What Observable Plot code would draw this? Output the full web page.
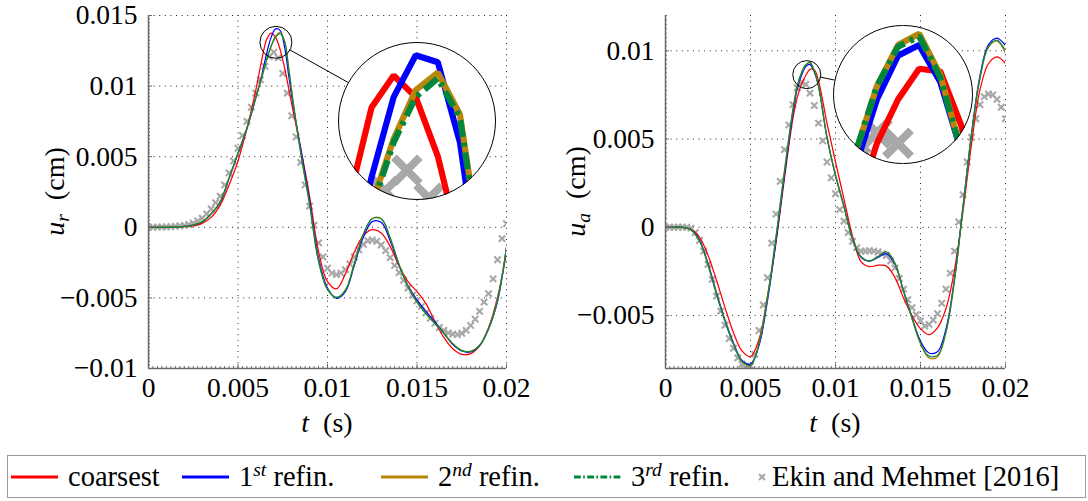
<!DOCTYPE html>
<html>
<head>
<meta charset="utf-8">
<script src="https://cdn.jsdelivr.net/npm/d3@7"></script>
<script src="https://cdn.jsdelivr.net/npm/@observablehq/plot@0.6"></script>
<style>
  html, body { margin: 0; padding: 0; background: #fff; }
  #figure { position: relative; width: 1088px; height: 501px; font-family: "Liberation Serif", Tinos, "DejaVu Serif", serif; color: #000; }
  .panel { position: absolute; top: 0; }
  .lens, .lens-ring { position: absolute; border-radius: 50%; }
  .lens { overflow: hidden; background: #fff; }
  .lens svg { display: block; }
  .lens-ring { border: 1.8px solid #000; box-sizing: border-box; }
  #legend { position: absolute; left: 7px; top: 455px; width: 1079px; height: 43px; border: 1.5px solid #9a9a9a; box-sizing: border-box; font-size: 28.5px; }
  .item { position: absolute; top: 0; height: 100%; display: flex; align-items: center; white-space: nowrap; }
  .item svg { margin-right: 10px; }
  .sup { font-size: 19.5px; font-style: italic; position: relative; top: -10px; }
</style>
</head>
<body>
<div id="figure">
  <div id="left" class="panel" style="left:0"></div>
  <div id="right" class="panel" style="left:544px"></div>
  <div id="legend"></div>
</div>
<script>
// All tabulated values are in units of 1e-3 (t in ms, u in 1e-3 cm).
const UNIT = 1e-3;

// ---- radial displacement u_r ----
const tSimR_r = [0, 0.5, 1, 1.5, 2, 2.5, 3, 3.5, 4, 4.5, 5, 5.5, 6, 6.35, 6.6, 6.85, 7.1, 7.35, 7.6, 7.85, 8.1, 8.5,
  9, 9.5, 10, 10.5, 11, 11.5, 12, 12.5, 13, 13.5, 14, 14.5, 15, 15.5, 16, 16.5, 17, 17.5, 18, 18.5, 19, 19.5, 20];
const coarsest_r = [0, 0, 0, 0.01, 0.04, 0.1, 0.28, 0.7, 1.55, 3.0, 4.7, 7.0, 9.75, 12.0, 13.3, 13.76, 13.45, 12.6, 11.3, 9.7, 8.1, 5.6,
  2.2, -1.7, -3.85, -4.35, -3.3, -1.75, -0.6, -0.17, -0.4, -1.35, -2.75, -3.85, -4.55, -5.4, -6.65, -7.8, -8.6, -9.0, -8.95, -8.4, -7.1, -4.95, -1.8];
const refin1_r = [0, 0, 0, 0.02, 0.06, 0.15, 0.38, 0.95, 1.75, 3.45, 5.2, 7.0, 9.2, 10.9, 12.3, 13.45, 14.05, 13.95, 12.8, 10.6, 8.5, 5.6,
  1.9, -2.2, -4.3, -5.03, -4.55, -2.7, -0.71, 0.4, 0.35, -0.95, -2.7, -4.15, -5.15, -5.95, -6.7, -7.5, -8.3, -8.75, -8.83, -8.38, -7.2, -5.25, -1.4];
const refin2_r = [0, 0, 0, 0.02, 0.06, 0.16, 0.4, 0.95, 1.8, 3.5, 5.25, 7.05, 9.2, 10.75, 11.9, 12.85, 13.55, 13.8, 13.2, 11.1, 8.7, 5.3,
  1.6, -2.4, -4.4, -4.96, -4.45, -2.55, -0.5, 0.62, 0.62, -0.75, -2.65, -4.2, -5.3, -6.1, -6.8, -7.5, -8.25, -8.72, -8.78, -8.35, -7.15, -5.1, -1.45];
const refin3_r = [0, 0, 0, 0.02, 0.06, 0.16, 0.4, 0.95, 1.8, 3.5, 5.25, 7.05, 9.2, 10.7, 11.85, 12.8, 13.45, 13.72, 13.15, 11.05, 8.7, 5.3,
  1.6, -2.4, -4.4, -4.97, -4.45, -2.55, -0.5, 0.6, 0.6, -0.75, -2.65, -4.2, -5.3, -6.1, -6.8, -7.5, -8.25, -8.72, -8.78, -8.35, -7.15, -5.1, -1.45];
// Ekin and Mehmet [2016], sampled every 0.25 ms
const tRef_r = d3.range(0, 81).map(i => i * 0.25);
const ekin_r = [0, 0, 0.01, 0.02, 0.03, 0.05, 0.07, 0.1, 0.14, 0.2, 0.3, 0.45, 0.65, 0.95, 1.3, 1.75, 2.2, 3.0, 3.85, 4.7,
  5.6, 6.5, 7.5, 8.5, 9.5, 10.45, 11.4, 12.1, 12.4, 12.0, 10.9, 9.5, 7.9, 6.4, 4.6, 3.0, 1.5, 0.15, -1.1, -2.1,
  -2.9, -3.25, -3.35, -3.25, -3.0, -2.6, -2.1, -1.6, -1.2, -0.95, -0.9, -1.0, -1.25, -1.65, -2.15, -2.7, -3.2, -3.75, -4.3, -4.8,
  -5.2, -5.6, -6.05, -6.45, -6.8, -7.1, -7.3, -7.48, -7.57, -7.6, -7.5, -7.3, -6.95, -6.5, -5.95, -5.3, -4.7, -3.65, -2.3, -0.8, 0.25];

// ---- axial displacement u_a ----
const tSimR_a = [0, 0.5, 1, 1.5, 2, 2.5, 3, 3.5, 4, 4.5, 5, 5.5, 6, 6.5, 7, 7.5, 7.75, 8, 8.25, 8.5, 8.75, 9,
  9.5, 10, 10.5, 11, 11.5, 12, 12.5, 13, 13.5, 14, 14.5, 15, 15.5, 16, 16.5, 17, 17.5, 18, 18.5, 19, 19.5, 20];
const coarsest_a = [0, 0, 0, -0.12, -0.55, -1.58, -3.0, -4.55, -5.97, -7.0, -7.32, -6.35, -3.9, -0.85, 2.8, 6.2, 7.35, 8.1, 8.6, 8.95, 8.92, 8.3,
  5.9, 3.7, 1.6, -0.5, -1.94, -2.23, -2.15, -2.2, -2.85, -4.0, -5.0, -5.75, -6.08, -5.7, -4.6, -2.4, 0.9, 4.7, 7.8, 9.28, 9.66, 9.28];
const refin1_a = [0, 0, 0, -0.13, -0.72, -2.05, -3.7, -5.25, -6.55, -7.55, -7.75, -6.7, -4.15, -0.8, 2.95, 6.5, 7.85, 8.6, 9.1, 9.22, 8.8, 8.0,
  5.1, 2.95, 1.2, -0.65, -1.7, -1.92, -1.7, -1.5, -2.1, -3.6, -5.1, -6.45, -7.12, -7.05, -5.75, -2.9, 1.2, 5.3, 8.6, 10.35, 10.72, 10.3];
const refin2_a = [0, 0, 0, -0.15, -0.78, -2.13, -3.8, -5.33, -6.63, -7.6, -7.85, -6.57, -3.95, -0.55, 3.2, 6.7, 8.0, 8.75, 9.22, 9.35, 8.88, 8.0,
  5.1, 2.95, 1.15, -0.65, -1.66, -1.9, -1.65, -1.4, -2.05, -3.6, -5.15, -6.6, -7.4, -7.35, -5.95, -3.0, 1.1, 5.2, 8.45, 10.2, 10.55, 9.85];
const refin3_a = [0, 0, 0, -0.15, -0.78, -2.13, -3.8, -5.33, -6.63, -7.6, -7.82, -6.57, -3.95, -0.55, 3.2, 6.7, 8.0, 8.75, 9.2, 9.32, 8.85, 8.0,
  5.1, 2.95, 1.15, -0.65, -1.66, -1.9, -1.65, -1.4, -2.05, -3.6, -5.15, -6.55, -7.3, -7.25, -5.9, -3.0, 1.1, 5.2, 8.45, 10.25, 10.6, 10.0];
const tRef_a = d3.range(0, 81).map(i => i * 0.25);
const ekin_a = [0, 0, 0, 0, 0, 0, -0.05, -0.3, -0.75, -1.35, -2.1, -2.95, -3.9, -4.75, -5.55, -6.3, -6.85, -7.4, -7.75, -8.0,
  -7.85, -7.2, -5.85, -4.4, -2.85, -0.9, 0.75, 2.6, 4.4, 5.8, 6.95, 7.9, 8.22, 8.1, 7.6, 6.9, 5.9, 4.9, 3.7, 2.8,
  1.9, 1.0, 0.35, -0.3, -0.8, -1.15, -1.35, -1.35, -1.33, -1.35, -1.4, -1.5, -1.6, -1.9, -2.3, -2.9, -3.5, -4.1, -4.55, -4.95,
  -5.3, -5.6, -5.5, -5.25, -4.9, -4.3, -3.5, -2.6, -1.35, 0.3, 1.85, 3.7, 5.1, 6.15, 6.95, 7.4, 7.55, 7.5, 7.25, 6.8, 6.15];

// Axis ticks (in cm / s)
const xTicks = [0, 0.005, 0.01, 0.015, 0.02];
const yTicks_r = [-0.01, -0.005, 0, 0.005, 0.01, 0.015];
const yTicks_a = [-0.005, 0, 0.005, 0.01];

// Series names and styles
const seriesLabels = [
  {base: "coarsest"},
  {base: "1", sup: "st", rest: " refin."},
  {base: "2", sup: "nd", rest: " refin."},
  {base: "3", sup: "rd", rest: " refin."}
];
const refLabel = "Ekin and Mehmet [2016]";
const seriesStyle = [
  {color: "#ff0000", dash: null},
  {color: "#0000ff", dash: null},
  {color: "#b8860b", dash: null},
  {color: "#00873c", dash: [3.4, 1.2, 0.8, 1.2]}
];
const refColor = "#a8a8a8";

const toRows = (t, u) => t.map((ti, i) => ({t: ti * UNIT, u: u[i] * UNIT}));
const fmt = d => d === 0 ? "0" : (d < 0 ? "\u2212" : "") + String(+Math.abs(d).toFixed(4));

const H = 450, MT = 15, MB = 82;
const FONT = '"Liberation Serif", Tinos, "DejaVu Serif", serif';
const axisGray = "#6a6a6a";
const lineW = 1.25, dotR = 3.0, dotW = 2.1;

const panels = [
  {
    el: "#left", width: 544, marginLeft: 148, marginRight: 38,
    yDomain: [-0.01, 0.015], yTicks: yTicks_r, sub: "r", yLabelX: 64,
    t: tSimR_r, sims: [coarsest_r, refin1_r, refin2_r, refin3_r], tRef: tRef_r, ref: ekin_r,
    lens: {t: 0.00712, u: 0.0131, r: 16, cx: 417, cy: 121, R: 79}
  },
  {
    el: "#right", width: 544, marginLeft: 121, marginRight: 83,
    yDomain: [-0.008, 0.012], yTicks: yTicks_a, sub: "a", yLabelX: 41,
    t: tSimR_a, sims: [coarsest_a, refin1_a, refin2_a, refin3_a], tRef: tRef_a, ref: ekin_a,
    lens: {t: 0.00831, u: 0.00865, r: 14, cx: 359, cy: 94.5, R: 69.6}
  }
];

function drawPanel(p) {
  const sims = p.sims.map(u => toRows(p.t, u));
  const ref = toRows(p.tRef, p.ref);
  const minorX = d3.range(0, 81).map(i => i * 0.00025);
  const minorY = d3.range(Math.round(p.yDomain[0] / 0.00025), Math.round(p.yDomain[1] / 0.00025) + 1).map(i => i * 0.00025);
  const dotted = {stroke: "#222", strokeOpacity: 1, strokeWidth: 1, strokeDasharray: "1,4.6"};

  const plot = Plot.plot({
    width: p.width, height: H,
    marginLeft: p.marginLeft, marginRight: p.marginRight, marginTop: MT, marginBottom: MB,
    style: {fontFamily: FONT, fontSize: "27.5px", color: "#000", background: "transparent", overflow: "visible"},
    x: {domain: [0, 0.02]},
    y: {domain: p.yDomain},
    marks: [
      Plot.gridX(xTicks.filter(d => d > 0), dotted),
      Plot.gridY(p.yTicks.filter(d => d > p.yDomain[0]), dotted),
      Plot.dot(ref, {x: "t", y: "u", symbol: "times", r: dotR, stroke: refColor, strokeWidth: dotW, clip: true}),
      ...sims.map((rows, i) => Plot.line(rows, {
        x: "t", y: "u", stroke: seriesStyle[i].color, strokeWidth: lineW, curve: "catmull-rom",
        strokeDasharray: seriesStyle[i].dash ? seriesStyle[i].dash.join(",") : undefined, clip: true
      })),
      Plot.ruleX([0], {stroke: axisGray, strokeWidth: 1.5}),
      Plot.ruleY([p.yDomain[0]], {stroke: axisGray, strokeWidth: 1.5}),
      Plot.axisX(minorX, {tickSize: -2, fill: "none", stroke: axisGray, label: null}),
      Plot.axisX(xTicks, {tickSize: -4, fill: "none", stroke: axisGray, label: null}),
      Plot.axisY(minorY, {tickSize: -2, fill: "none", stroke: axisGray, label: null}),
      Plot.axisY(p.yTicks, {tickSize: -4, fill: "none", stroke: axisGray, label: null}),
      Plot.axisX(xTicks, {tickSize: 0, tickPadding: 9, tickFormat: fmt, label: null, fontFamily: FONT}),
      Plot.axisY(p.yTicks, {tickSize: 0, tickPadding: 11, tickFormat: fmt, label: null, fontFamily: FONT}),
      Plot.dot([p.lens], {x: "t", y: "u", r: p.lens.r, stroke: "#000", strokeWidth: 1, fill: "none"})
    ]
  });

  const svg = d3.select(plot);
  const sx = plot.scale("x"), sy = plot.scale("y");

  // y-axis title: u_r (cm) / u_a (cm)
  const yl = svg.append("text")
    .attr("transform", `translate(${p.yLabelX},${(MT + H - MB) / 2}) rotate(-90)`)
    .attr("text-anchor", "middle").attr("font-size", 28).attr("font-family", FONT);
  yl.append("tspan").attr("font-style", "italic").text("u");
  yl.append("tspan").attr("font-style", "italic").attr("font-size", 19.5).attr("dy", 5).text(p.sub);
  yl.append("tspan").attr("dy", -5).text("\u2002(cm)");

  // x-axis title: t (s)
  const xl = svg.append("text")
    .attr("x", (sx.range[0] + sx.range[1]) / 2).attr("y", 432)
    .attr("text-anchor", "middle").attr("font-size", 28).attr("font-family", FONT);
  xl.append("tspan").attr("font-style", "italic").text("t");
  xl.append("tspan").text("\u2002(s)");

  // magnified view of the peak
  const L = p.lens;
  const pxX = Math.abs((sx.range[1] - sx.range[0]) / (sx.domain[1] - sx.domain[0]));
  const pxY = Math.abs((sy.range[1] - sy.range[0]) / (sy.domain[1] - sy.domain[0]));
  const dt = L.r / pxX, du = L.r / pxY, mag = L.R / L.r;
  const cx0 = sx.apply(L.t), cy0 = sy.apply(L.u);
  const vx = L.cx - cx0, vy = L.cy - cy0, dist = Math.hypot(vx, vy);
  svg.append("line")
    .attr("x1", cx0 + vx / dist * L.r).attr("y1", cy0 + vy / dist * L.r)
    .attr("x2", L.cx - vx / dist * L.R).attr("y2", L.cy - vy / dist * L.R)
    .attr("stroke", "#000").attr("stroke-width", 1);

  const inset = Plot.plot({
    width: 2 * L.R, height: 2 * L.R, margin: 0,
    style: {background: "#fff", overflow: "hidden"},
    x: {domain: [L.t - dt, L.t + dt], axis: null},
    y: {domain: [L.u - du, L.u + du], axis: null},
    marks: [
      Plot.dot(ref, {x: "t", y: "u", symbol: "times", r: 2.4 * mag, stroke: refColor, strokeWidth: 1.6 * mag, clip: true}),
      ...sims.map((rows, i) => Plot.line(rows, {
        x: "t", y: "u", stroke: seriesStyle[i].color, strokeWidth: lineW * mag, curve: "linear",
        strokeLinejoin: "miter", strokeLinecap: "butt",
        strokeDasharray: seriesStyle[i].dash ? seriesStyle[i].dash.map(v => v * mag).join(",") : undefined, clip: true
      }))
    ]
  });

  const host = document.querySelector(p.el);
  host.style.width = p.width + "px";
  host.style.height = H + "px";
  host.append(plot);
  const geom = el => {
    el.style.left = (L.cx - L.R) + "px"; el.style.top = (L.cy - L.R) + "px";
    el.style.width = (2 * L.R) + "px"; el.style.height = (2 * L.R) + "px";
    return el;
  };
  const lens = geom(document.createElement("div"));
  lens.className = "lens";
  lens.append(inset);
  const ring = geom(document.createElement("div"));
  ring.className = "lens-ring";
  host.append(lens, ring);
}

panels.forEach(drawPanel);

// Legend
const legend = document.getElementById("legend");
const itemLeft = [3, 174, 373, 566, 749];
seriesLabels.forEach((s, i) => {
  const item = document.createElement("div");
  item.className = "item";
  item.style.left = itemLeft[i] + "px";
  const st = seriesStyle[i];
  const dash = st.dash ? `stroke-dasharray="${st.dash.map(v => v * 2).join(",")}"` : "";
  item.innerHTML = `<svg width="47" height="10"><line x1="0" y1="5" x2="47" y2="5" stroke="${st.color}" stroke-width="3" ${dash}/></svg>` +
    `<span>${s.base}${s.sup ? `<span class="sup">${s.sup}</span>` : ""}${s.rest || ""}</span>`;
  legend.append(item);
});
{
  const item = document.createElement("div");
  item.className = "item";
  item.style.left = itemLeft[4] + "px";
  item.innerHTML = `<svg width="10" height="10" style="margin-right:5px"><path d="M2,2L8,8M2,8L8,2" stroke="${refColor}" stroke-width="2"/></svg><span>${refLabel}</span>`;
  legend.append(item);
}
</script>
</body>
</html>
